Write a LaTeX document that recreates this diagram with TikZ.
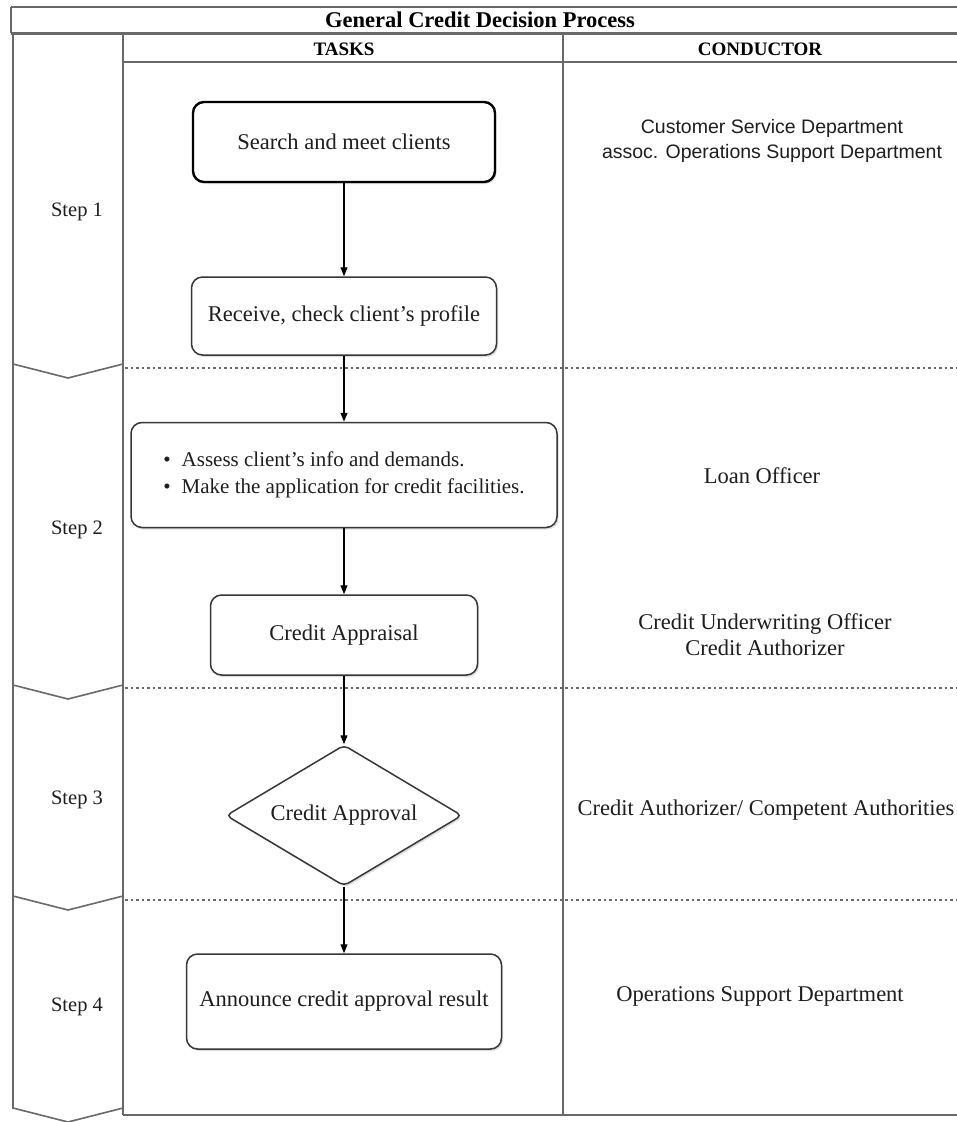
\documentclass[tikz,border=0pt]{standalone}
\usepackage{fontspec}
\setmainfont{Liberation Serif}
\newfontfamily\deptsans{Liberation Sans}
\usetikzlibrary{shapes.geometric, arrows.meta, positioning, shadows}
\definecolor{laneline}{RGB}{105,105,105}
\definecolor{boxline}{RGB}{55,55,55}
\definecolor{inktext}{RGB}{30,30,30}

\begin{document}
\begin{tikzpicture}[x=1pt, y=-1pt,
  tablerule/.style={draw=laneline, line width=1.4pt},
  laneedge/.style={draw=laneline, line width=2.4pt},
  lanesep/.style={draw=laneline, line width=1.3pt, dash pattern=on 2.5pt off 3pt},
  task/.style={draw=boxline, line width=1.5pt, rounded corners=11pt, fill=white,
    text=inktext, font=\fontsize{22.5}{27}\selectfont, inner sep=0pt,
    drop shadow={opacity=0.25, shadow xshift=1.5pt, shadow yshift=-2pt}},
  decision/.style={task, diamond, aspect=1.67, rounded corners=5pt},
  who/.style={text=inktext, font=\fontsize{22.5}{26}\selectfont, align=center},
  steplabel/.style={text=inktext, font=\fontsize{20.5}{24}\selectfont},
  heading/.style={text=black, font=\bfseries\fontsize{19}{22}\selectfont},
  flow/.style={draw=black, line width=1.2pt, -{Triangle[length=9pt, width=7pt]}}]
\useasboundingbox (0,0) rectangle (957,1122);
\fill[white] (0,0) rectangle (957,1122);

% table frame
\draw[tablerule] (11,7) -- (957,7);
\draw[tablerule] (11,7) -- (11,33);
\draw[draw=laneline, line width=3pt] (11,33) -- (957,33);
\draw[tablerule] (123,62) -- (957,62);
\draw[tablerule] (563,33) -- (563,1115);
\draw[tablerule] (123,1115) -- (957,1115);
\draw[laneedge] (13,33) -- (13,1109);
\draw[laneedge] (123,33) -- (123,1115);
\foreach \yy in {364,685,896,1108}
  \draw[laneedge, line width=1.6pt] (13,\yy) -- (68,\yy+14) -- (123,\yy);
\foreach \yy in {368,688,900}
  \draw[lanesep] (125,\yy) -- (957,\yy);

% headings
\node[font=\bfseries\fontsize{22.5}{26}\selectfont] (title) at (480,20) {General Credit Decision Process};
\node[heading] (tasks) at (344,49) {TASKS};
\node[heading] (conductor) at (760,49) {CONDUCTOR};

% steps
\node[steplabel] (step1) at (77,212) {Step 1};
\node[steplabel] (step2) at (77,530) {Step 2};
\node[steplabel] (step3) at (77,800) {Step 3};
\node[steplabel] (step4) at (77,1007) {Step 4};

% tasks
\node[task, line width=2.4pt, draw=black, minimum width=302pt, minimum height=80pt] (search) at (344,142) {Search and meet clients};
\node[task, minimum width=305pt, minimum height=78pt] (receive) at (344,316) {Receive, check client's profile};
\node[task, minimum width=426pt, minimum height=105pt, font=\fontsize{21}{27}\selectfont] (assess) at (344,475) {%
  \begin{tabular}{@{}l@{\hspace{11pt}}l@{}}
  \textbullet & Assess client's info and demands.\\
  \textbullet & Make the application for credit facilities.
  \end{tabular}};
\node[task, minimum width=267pt, minimum height=80pt] (appraisal) at (344,635) {Credit Appraisal};
\node[decision, minimum width=236pt, minimum height=141pt] (approval) at (344,815.5) {Credit Approval};
\node[task, minimum width=315pt, minimum height=95pt] (announce) at (344,1001.5) {Announce credit approval result};

\draw[flow] (search) -- (receive);
\draw[flow] (receive) -- (assess);
\draw[flow] (assess) -- (appraisal);
\draw[flow] (appraisal) -- (approval);
\draw[flow] (approval) -- (announce);

% conductors
\node[who, font=\deptsans\fontsize{19.5}{25}\selectfont] (csd) at (772,141) {Customer Service Department\\assoc. Operations Support Department};
\node[who] (loan) at (762,476) {Loan Officer};
\node[who] (underwriting) at (765,635) {Credit Underwriting Officer\\Credit Authorizer};
\node[who] (authorities) at (766,810) {Credit Authorizer/ Competent Authorities};
\node[who] (ops) at (760,996) {Operations Support Department};
\end{tikzpicture}
\end{document}
